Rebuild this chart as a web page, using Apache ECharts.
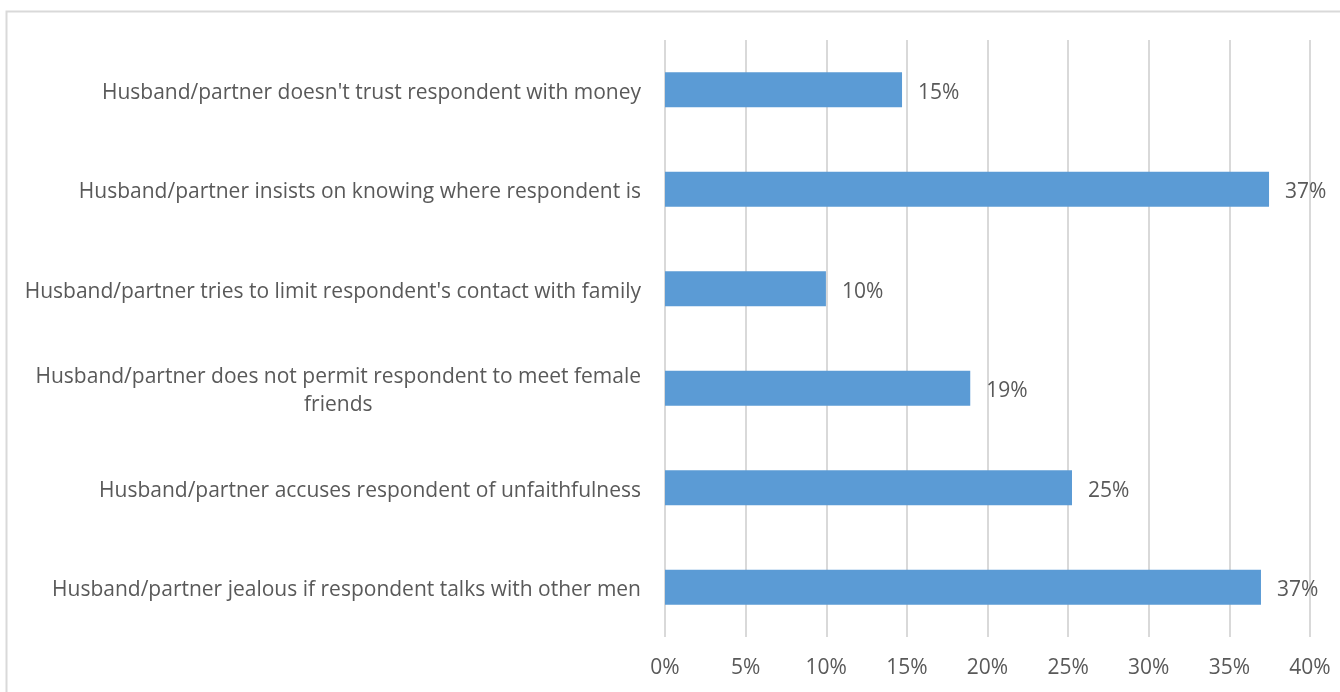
<!DOCTYPE html>
<html>
<head>
<meta charset="utf-8">
<script src="https://cdn.jsdelivr.net/npm/echarts@6/dist/echarts.min.js"></script>
<style>
html,body{margin:0;padding:0;background:#fff;}
#chart{width:1340px;height:692px;}
</style>
</head>
<body>
<div id="chart"></div>
<script>
// Categories listed bottom to top (as drawn on a category y axis)
const categories = [
  "Husband/partner jealous if respondent talks with other men",
  "Husband/partner accuses respondent of unfaithfulness",
  "Husband/partner does not permit respondent to meet female friends",
  "Husband/partner tries to limit respondent's contact with family",
  "Husband/partner insists on knowing where respondent is",
  "Husband/partner doesn't trust respondent with money"
];
const values = [36.96, 25.24, 18.93, 9.98, 37.46, 14.7];
const valueLabels = ["37%", "25%", "19%", "10%", "37%", "15%"];
const xTicks = { min: 0, max: 40, interval: 5 };

const FONT = "Open Sans";
const FS = 21;
const TEXT = "#595959";

const cv = document.createElement('canvas').getContext('2d');
cv.font = FS + "px '" + FONT + "'";
function wrap(s, maxW) {
  const words = s.split(' ');
  const lines = [];
  let cur = '';
  for (const w of words) {
    const t = cur ? cur + ' ' + w : w;
    if (cur && cv.measureText(t).width > maxW) { lines.push(cur); cur = w; }
    else cur = t;
  }
  if (cur) lines.push(cur);
  return lines;
}

const chart = echarts.init(document.getElementById('chart'), null, { renderer: 'canvas' });
chart.setOption({
  animation: false,
  backgroundColor: '#fff',
  textStyle: { fontFamily: FONT },
  graphic: [{
    type: 'rect',
    shape: { x: 6.5, y: 11.5, width: 1400, height: 800 },
    style: { fill: 'none', stroke: '#D9D9D9', lineWidth: 2 },
    silent: true
  }],
  grid: { left: 665, right: 30, top: 40, bottom: 55, containLabel: false },
  xAxis: {
    type: 'value',
    min: xTicks.min, max: xTicks.max, interval: xTicks.interval,
    axisLine: { show: false },
    axisTick: { show: false },
    splitLine: { show: true, lineStyle: { color: '#D9D9D9', width: 2 } },
    axisLabel: { formatter: v => v + '%', color: TEXT, fontSize: FS, fontFamily: FONT, margin: 21 }
  },
  yAxis: {
    type: 'category',
    data: categories,
    axisLine: { show: false },
    axisTick: { show: false },
    axisLabel: {
      color: TEXT, fontSize: FS, fontFamily: FONT, margin: 24, lineHeight: 28,
      padding: [6, 0, 0, 0],
      formatter: s => wrap(s, 635).map(l => '{c|' + l + '}').join('\n'),
      rich: { c: { align: 'center', color: TEXT, fontSize: FS, fontFamily: FONT, lineHeight: 28 } }
    }
  },
  series: [{
    type: 'bar',
    data: values,
    barCategoryGap: '65%',
    itemStyle: { color: '#5B9BD5' },
    label: {
      show: true, position: 'right', distance: 16, offset: [0, 3],
      color: TEXT, fontSize: FS, fontFamily: FONT,
      formatter: p => valueLabels[p.dataIndex]
    }
  }]
});
</script>
</body>
</html>
